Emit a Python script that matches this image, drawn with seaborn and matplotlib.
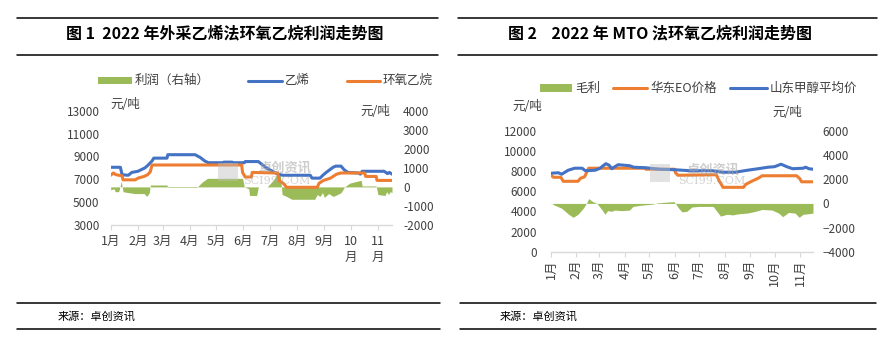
import numpy as np
import pandas as pd
import matplotlib
matplotlib.use("Agg")
import matplotlib.pyplot as plt
import matplotlib.dates as mdates
from matplotlib.patches import Rectangle
from matplotlib.lines import Line2D
import seaborn as sns

# ---------------- data: chart 1 (外采乙烯法) ----------------
c1_eth_dates = ["01-01", "01-12", "01-14", "01-21", "01-25", "02-01", "02-09", "02-12", "02-17", "02-19",
                "03-06", "03-07", "04-07", "04-13", "04-18", "04-22", "05-08", "05-10", "05-19", "05-21",
                "06-02", "06-03", "06-18", "06-22", "06-27", "07-04", "07-10", "07-16", "08-16", "08-18",
                "08-27", "08-31", "09-04", "09-11", "09-14", "09-20", "09-24", "09-28", "10-10", "10-12",
                "10-14", "11-08", "11-12", "11-14", "11-17"]
c1_eth_vals = [8050, 8050, 7400, 7350, 7600, 7700, 8000, 8200, 8600, 8850,
               8850, 9150, 9150, 8900, 8600, 8450, 8450, 8500, 8500, 8450,
               8450, 8550, 8550, 8300, 8000, 7700, 7450, 7350, 7350, 7100,
               7100, 7400, 7650, 8050, 8150, 8150, 7800, 7600, 7550, 7450,
               7700, 7700, 7500, 7600, 7450]

c1_eo_dates = ["01-01", "01-04", "01-07", "01-14", "01-15", "01-29", "02-01", "02-08", "02-12", "02-15",
               "02-17", "05-30", "05-31", "06-03", "06-10", "06-11", "07-10", "07-12", "07-17", "07-20",
               "08-24", "08-26", "08-31", "09-08", "09-15", "09-20", "10-17", "10-18", "10-30", "10-31",
               "11-17"]
c1_eo_vals = [7350, 7550, 7400, 7300, 6950, 6950, 7100, 7250, 7400, 7650,
              8250, 8250, 7600, 7200, 7200, 7600, 7550, 6850, 6600, 6300,
              6300, 6650, 6900, 7100, 7450, 7550, 7550, 7250, 7250, 6900,
              6900]

c1_profit_dates = ["01-01", "01-05", "01-06", "01-10", "01-11", "01-13", "01-15", "01-21", "01-29", "02-08",
                   "02-11", "02-14", "02-15", "03-06", "03-07", "04-09", "04-15", "04-21", "05-31", "06-02",
                   "06-07", "06-08", "06-16", "06-18", "06-28", "07-05", "07-09", "07-13", "07-15", "07-20",
                   "07-26", "08-21", "08-24", "08-27", "08-30", "09-01", "09-06", "09-11", "09-16", "09-20",
                   "09-24", "09-30", "10-13", "10-14", "10-30", "11-01", "11-09", "11-11", "11-13", "11-15",
                   "11-17"]
c1_profit_vals = [-150, -100, -250, -250, -100, 300, -250, -300, -350, -350,
                  -500, -300, 100, 100, -30, -30, 250, 450, 450, 0,
                  -100, -450, -450, 0, 0, 350, 650, 600, -400, -500,
                  -650, -650, -400, -500, -300, -550, -350, -500, -400, -300,
                  0, 200, 350, 50, 50, -400, -450, -250, -400, -250,
                  -300]

# ---------------- data: chart 2 (MTO法) ----------------
c2_meoh_dates = ["01-01", "01-10", "01-14", "01-22", "01-30", "02-08", "02-12", "02-24", "03-02", "03-05",
                 "03-09", "03-13", "03-16", "03-24", "03-31", "04-07", "04-12", "04-26", "05-14", "06-01",
                 "06-20", "07-17", "07-29", "08-14", "08-29", "09-11", "09-23", "10-01", "10-09", "10-16",
                 "10-23", "11-05", "11-08", "11-12", "11-17"]
c2_meoh_vals = [7800, 7850, 7700, 8100, 8300, 8300, 8050, 8100, 8300, 8500,
                8750, 8600, 8250, 8650, 8600, 8550, 8400, 8350, 8200, 8150,
                8050, 8050, 7900, 7900, 8100, 8250, 8400, 8450, 8700, 8450,
                8250, 8300, 8400, 8250, 8200]

c2_eo_dates = ["01-01", "01-04", "01-13", "01-16", "02-03", "02-06", "02-11", "02-16", "04-26", "04-27",
               "06-01", "06-02", "06-05", "07-22", "07-25", "07-28", "07-30", "08-24", "08-27", "09-03",
               "09-11", "09-16", "10-28", "11-01", "11-03", "11-17"]
c2_eo_vals = [7600, 7400, 7400, 7000, 7000, 7300, 7450, 8300, 8300, 8200,
              8200, 7850, 7600, 7650, 7100, 6700, 6400, 6400, 6700, 7000,
              7300, 7550, 7550, 7250, 6950, 6950]

c2_profit_dates = ["01-01", "01-04", "01-09", "01-14", "01-22", "01-28", "02-03", "02-10", "02-14", "02-16",
                   "02-21", "02-26", "03-04", "03-08", "03-11", "03-16", "03-20", "03-28", "04-07", "04-11",
                   "04-21", "05-06", "05-11", "05-21", "05-31", "06-02", "06-06", "06-10", "06-16", "06-22",
                   "06-30", "07-18", "07-22", "07-27", "08-04", "08-11", "08-19", "08-29", "09-08", "09-16",
                   "09-28", "10-06", "10-11", "10-18", "10-26", "10-31", "11-05", "11-12", "11-17"]
c2_profit_vals = [50, -100, -250, -400, -870, -1150, -900, -350, 100, 400,
                  150, 0, -500, -900, -600, -650, -550, -600, -550, -250,
                  -150, -50, 50, 100, 150, 0, -400, -700, -650, -300,
                  -250, -250, -600, -1050, -900, -950, -850, -800, -650, -500,
                  -550, -800, -1100, -750, -800, -1150, -900, -850, -800]

month_labels_1 = ["1月", "2月", "3月", "4月", "5月", "6月", "7月", "8月", "9月", "10\n月", "11\n月"]
month_labels_2 = ["1月", "2月", "3月", "4月", "5月", "6月", "7月", "8月", "9月", "10月", "11月"]

titles = ["图 1  2022 年外采乙烯法环氧乙烷利润走势图", "图 2    2022 年 MTO 法环氧乙烷利润走势图"]
source_text = "来源：卓创资讯"


def to_dates(lst):
    return pd.to_datetime(["2022-" + d for d in lst])


sns.set_theme(style="white")
plt.rcParams["font.family"] = ["Noto Sans CJK SC", "DejaVu Sans"]
plt.rcParams["axes.unicode_minus"] = False

W, H = 884, 337
fig = plt.figure(figsize=(W / 100, H / 100), dpi=100)
fig.patch.set_facecolor("white")

BLUE = "#4472C4"
ORANGE = "#ED7D31"
GREEN = "#9BBB59"
AXGRAY = "#D9D9D9"
TXT = "#404040"


def fx(x):
    return x / W


def fy(y):
    return 1 - y / H


def add_axes_px(x0, y0, x1, y1):
    return fig.add_axes([fx(x0), fy(y1), (x1 - x0) / W, (y1 - y0) / H])


start = pd.Timestamp("2022-01-01")
end = pd.Timestamp("2022-11-17")
month_starts = pd.date_range("2022-01-01", "2022-11-01", freq="MS")


def style_axes(ax, axr):
    for s in ax.spines.values():
        s.set_visible(False)
    for s in axr.spines.values():
        s.set_visible(False)
    ax.spines["bottom"].set_visible(True)
    ax.spines["bottom"].set_color(AXGRAY)
    ax.spines["bottom"].set_linewidth(1.0)
    ax.set_xlim(start, end)
    ax.set_xticks(month_starts)
    ax.tick_params(axis="x", length=3.5, width=0.8, color=AXGRAY, direction="out",
                   labelcolor=TXT, bottom=True)
    ax.tick_params(axis="y", length=0, labelcolor=TXT, labelsize=8.5, pad=8)
    axr.tick_params(axis="y", length=0, labelcolor=TXT, labelsize=8.5, pad=8)
    ax.set_xlabel("")
    ax.set_ylabel("")
    axr.set_ylabel("")
    ax.grid(False)
    axr.grid(False)
    ax.set_zorder(axr.get_zorder() + 1)
    ax.patch.set_visible(False)


# ---------------- chart 1 ----------------
ax1 = add_axes_px(110.7, 110.7, 392, 225)
ax1r = ax1.twinx()
d = to_dates(c1_profit_dates)
ax1r.fill_between(d, 0, c1_profit_vals, color=GREEN, linewidth=0)
sns.lineplot(x=to_dates(c1_eth_dates), y=c1_eth_vals, ax=ax1, color=BLUE, linewidth=2.2)
sns.lineplot(x=to_dates(c1_eo_dates), y=c1_eo_vals, ax=ax1, color=ORANGE, linewidth=2.2)
ax1.set_ylim(3000, 13000)
ax1.set_yticks(range(3000, 13001, 2000))
ax1.set_yticklabels([str(v) for v in range(3000, 13001, 2000)])
ax1r.set_ylim(-2000, 4000)
ax1r.set_yticks(range(-2000, 4001, 1000))
ax1r.set_yticklabels([str(v) for v in range(-2000, 4001, 1000)])
style_axes(ax1, ax1r)
ax1.set_xticklabels(month_labels_1, fontsize=9, linespacing=1.3)
ax1.tick_params(axis="x", pad=4)

# ---------------- chart 2 ----------------
ax2 = add_axes_px(551, 131, 813, 251.7)
ax2r = ax2.twinx()
d2 = to_dates(c2_profit_dates)
ax2r.fill_between(d2, 0, c2_profit_vals, color=GREEN, linewidth=0)
sns.lineplot(x=to_dates(c2_eo_dates), y=c2_eo_vals, ax=ax2, color=ORANGE, linewidth=2.2)
sns.lineplot(x=to_dates(c2_meoh_dates), y=c2_meoh_vals, ax=ax2, color=BLUE, linewidth=2.2)
ax2.set_ylim(0, 12000)
ax2.set_yticks(range(0, 12001, 2000))
ax2.set_yticklabels([str(v) for v in range(0, 12001, 2000)])
ax2r.set_ylim(-4000, 6000)
ax2r.set_yticks(range(-4000, 6001, 2000))
ax2r.set_yticklabels([str(v).replace("-", "\u2212") for v in range(-4000, 6001, 2000)])
style_axes(ax2, ax2r)
ax2.set_xticklabels(month_labels_2, fontsize=9, rotation=90)
ax2.tick_params(axis="x", pad=2)
ax2.tick_params(axis="y", pad=10)
ax2r.tick_params(axis="y", pad=7)

# ---------------- legends (manual) ----------------
def leg_patch(x0, x1, y):
    fig.add_artist(Rectangle((fx(x0), fy(y + 3.5)), (x1 - x0) / W, 7 / H,
                             transform=fig.transFigure, color=GREEN, lw=0))


def leg_line(x0, x1, y, c):
    fig.add_artist(Line2D([fx(x0), fx(x1)], [fy(y), fy(y)], transform=fig.transFigure,
                          color=c, lw=2.2))


def ftext(x, y, s, **kw):
    fig.text(fx(x), fy(y), s, **kw)


leg_patch(98, 132, 80.5)
ftext(135, 80.5, "利润（右轴）", fontsize=9, va="center", ha="left", color=TXT)
leg_line(248, 282, 80.5, BLUE)
ftext(285, 80.5, "乙烯", fontsize=9, va="center", ha="left", color=TXT)
leg_line(347, 380, 80.5, ORANGE)
ftext(383, 80.5, "环氧乙烷", fontsize=9, va="center", ha="left", color=TXT)

leg_patch(540, 572, 88)
ftext(575, 88, "毛利", fontsize=9, va="center", ha="left", color=TXT)
leg_line(613, 647, 88, ORANGE)
ftext(650, 88, "华东EO价格", fontsize=9, va="center", ha="left", color=TXT)
leg_line(730, 767, 88, BLUE)
ftext(770, 88, "山东甲醇平均价", fontsize=9, va="center", ha="left", color=TXT)

# unit labels
ftext(110, 105, "元/吨", fontsize=9, va="center", ha="left", color=TXT)
ftext(360, 112, "元/吨", fontsize=9, va="center", ha="left", color=TXT)
ftext(512, 107, "元/吨", fontsize=9, va="center", ha="left", color=TXT)
ftext(772, 113, "元/吨", fontsize=9, va="center", ha="left", color=TXT)

# watermarks
for (lx, ly, tx, ty, sx, sy) in [(218, 172, 285, 168, 277, 181), (650, 173, 713, 170, 712, 181)]:
    fig.add_artist(Rectangle((fx(lx), fy(ly + 9)), 20 / W, 18 / H, transform=fig.transFigure,
                             color="#BFBFBF", alpha=0.45, lw=0, zorder=10))
    ftext(tx, ty, "卓创资讯", fontsize=9.5, va="center", ha="center", color="#A6A6A6",
          alpha=0.55, zorder=10, fontweight="bold")
    ftext(sx, sy, "SCI99.COM", fontsize=8, va="center", ha="center", color="#A6A6A6",
          alpha=0.5, zorder=10, family=["DejaVu Serif"])

# titles and rules
ftext(225, 33, titles[0], fontsize=11.5, va="center", ha="center", color="black", fontweight="bold")
ftext(660, 33, titles[1], fontsize=11.5, va="center", ha="center", color="black", fontweight="bold")


def hline(x0, x1, y):
    fig.add_artist(Line2D([fx(x0), fx(x1)], [fy(y), fy(y)], transform=fig.transFigure,
                          color="black", lw=1.1))


for (a, b) in [(17, 438), (458, 877)]:
    hline(a, b, 18)
    hline(a, b, 55)
for (a, b) in [(17, 440), (460, 876)]:
    hline(a, b, 303)
    hline(a, b, 329)

ftext(58, 316, source_text, fontsize=8, va="center", ha="left", color="black")
ftext(500, 316, source_text, fontsize=8, va="center", ha="left", color="black")

fig.savefig("out.png", dpi=100, facecolor="white")
